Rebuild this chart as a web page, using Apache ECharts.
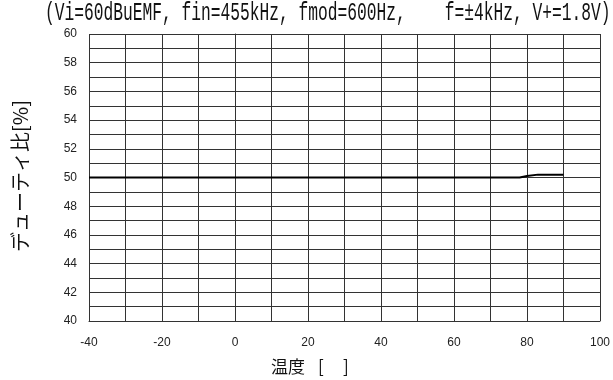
<!DOCTYPE html>
<html>
<head>
<meta charset="utf-8">
<script src="https://cdn.jsdelivr.net/npm/echarts@6/dist/echarts.min.js"></script>
<style>
  html, body { margin: 0; padding: 0; background: #fff; }
  #chart { width: 613px; height: 380px; }
</style>
</head>
<body>
<div id="chart"></div>
<script>
// Duty ratio vs. temperature
const temperature = [-40, -30, -20, -10, 0, 10, 20, 30, 40, 50, 60, 70, 78, 80, 83, 90];
const dutyRatio   = [50.0, 50.0, 50.0, 50.0, 50.0, 50.0, 50.0, 50.0, 50.0, 50.0, 50.0, 50.0, 50.0, 50.1, 50.2, 50.2];
const xTicks = [-40, -20, 0, 20, 40, 60, 80, 100];
const yTicks = [40, 42, 44, 46, 48, 50, 52, 54, 56, 58, 60];

const conditions = '(Vi=60dBuEMF, fin=455kHz, fmod=600Hz,    f=\u00b14kHz, V+=1.8V)';

const chart = echarts.init(document.getElementById('chart'), null, { renderer: 'canvas' });
const gridColor = '#333';
const labelFont = 'Liberation Sans, Arial, sans-serif';
const jpFont = '"Noto Sans CJK JP", sans-serif';
const monoFont = '"Liberation Mono", "DejaVu Sans Mono", monospace';

chart.setOption({
  animation: false,
  backgroundColor: '#fff',
  grid: { left: 89, right: 9, top: 34, bottom: 59, containLabel: false },
  xAxis: {
    type: 'value', min: -40, max: 100, interval: 10,
    axisLine: { show: true, lineStyle: { color: gridColor, width: 1 } },
    axisTick: { show: false },
    splitLine: { show: true, lineStyle: { color: gridColor, width: 1 } },
    axisLabel: {
      margin: 16, fontSize: 12, color: '#222', fontFamily: labelFont,
      formatter: v => xTicks.includes(v) ? String(v) : ''
    }
  },
  yAxis: {
    type: 'value', min: 40, max: 60, interval: 1,
    axisLine: { show: true, lineStyle: { color: gridColor, width: 1 } },
    axisTick: { show: false },
    splitLine: { show: true, lineStyle: { color: gridColor, width: 1 } },
    axisLabel: {
      margin: 12, fontSize: 12, color: '#222', fontFamily: labelFont,
      formatter: v => yTicks.includes(v) ? String(v) : ''
    }
  },
  graphic: [
    {
      type: 'text', x: 45, y: 1, scaleX: 0.65,
      style: { text: conditions, font: '25px ' + monoFont, fill: '#111' }
    },
    {
      type: 'text', x: 20, y: 176, rotation: Math.PI / 2,
      style: { text: 'デューティ比[%]', font: '20px ' + jpFont, fill: '#111',
               align: 'center', verticalAlign: 'middle' }
    },
    {
      type: 'text', x: 271, y: 367,
      style: { text: '温度', font: '17px ' + jpFont, fill: '#111',
               align: 'left', verticalAlign: 'middle' }
    },
    {
      type: 'text', x: 318, y: 367,
      style: { text: '[', font: '17px ' + jpFont, fill: '#111',
               align: 'left', verticalAlign: 'middle' }
    },
    {
      type: 'text', x: 343, y: 367,
      style: { text: ']', font: '17px ' + jpFont, fill: '#111',
               align: 'left', verticalAlign: 'middle' }
    }
  ],
  series: [{
    type: 'line',
    data: temperature.map((t, i) => [t, dutyRatio[i]]),
    showSymbol: false,
    smooth: false,
    lineStyle: { color: '#000', width: 2 }
  }]
});
</script>
</body>
</html>
